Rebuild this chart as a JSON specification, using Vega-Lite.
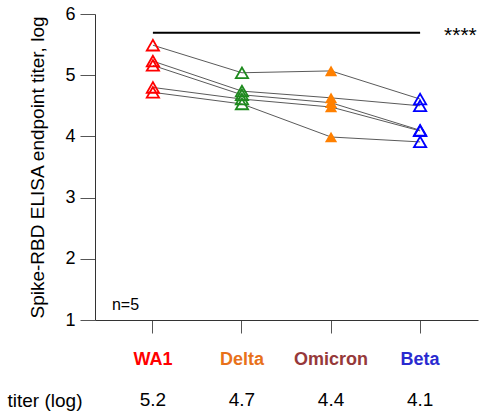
{
  "$schema": "https://vega.github.io/schema/vega-lite/v6.json",
  "autosize": {"type": "none"},
  "width": 383,
  "height": 306,
  "padding": {"left": 95, "top": 14, "right": 15, "bottom": 92},
  "background": "white",
  "config": {
    "view": {"stroke": null},
    "font": "Liberation Sans",
    "axis": {"labelFont": "Liberation Sans", "titleFont": "Liberation Sans"}
  },
  "datasets": {
    "titers": [
      {"subject": "A", "variant": "WA1", "titer": 5.49},
      {"subject": "A", "variant": "Delta", "titer": 5.04},
      {"subject": "A", "variant": "Omicron", "titer": 5.07},
      {"subject": "A", "variant": "Beta", "titer": 4.61},
      {"subject": "B", "variant": "WA1", "titer": 5.23},
      {"subject": "B", "variant": "Delta", "titer": 4.74},
      {"subject": "B", "variant": "Omicron", "titer": 4.63},
      {"subject": "B", "variant": "Beta", "titer": 4.5},
      {"subject": "C", "variant": "WA1", "titer": 5.16},
      {"subject": "C", "variant": "Delta", "titer": 4.68},
      {"subject": "C", "variant": "Omicron", "titer": 4.55},
      {"subject": "C", "variant": "Beta", "titer": 4.1},
      {"subject": "D", "variant": "WA1", "titer": 4.8},
      {"subject": "D", "variant": "Delta", "titer": 4.61},
      {"subject": "D", "variant": "Omicron", "titer": 4.48},
      {"subject": "D", "variant": "Beta", "titer": 4.09},
      {"subject": "E", "variant": "WA1", "titer": 4.72},
      {"subject": "E", "variant": "Delta", "titer": 4.53},
      {"subject": "E", "variant": "Omicron", "titer": 3.99},
      {"subject": "E", "variant": "Beta", "titer": 3.91}
    ],
    "means": [
      {"variant": "WA1", "mean": 5.2},
      {"variant": "Delta", "mean": 4.7},
      {"variant": "Omicron", "mean": 4.4},
      {"variant": "Beta", "mean": 4.1}
    ],
    "notes": [
      {"label": "****", "from": "WA1", "to": "Beta"}
    ],
    "count": [
      {"label": "n=5"}
    ]
  },
  "layer": [
    {
      "data": {"name": "titers"},
      "mark": {"type": "line", "color": "#5a5a5a", "strokeWidth": 1},
      "encoding": {
        "x": {
          "field": "variant",
          "type": "nominal",
          "sort": ["WA1", "Delta", "Omicron", "Beta"],
          "scale": {"domain": ["WA1", "Delta", "Omicron", "Beta"], "paddingInner": 0, "paddingOuter": 0.15},
          "axis": {
            "title": "titer (log)",
            "titleX": -88,
            "titleY": 80,
            "titleAnchor": "start",
            "titleAlign": "left",
            "titleBaseline": "middle",
            "titleAngle": 0,
            "titleFontSize": 19,
            "titleFontWeight": "normal",
            "titleColor": "black",
            "labelAngle": 0,
            "labelFontSize": 18,
            "labelFontWeight": "bold",
            "labelPadding": 17,
            "labelDx": 8,
            "labelColor": {"expr": "datum.value === 'WA1' ? '#ff0000' : datum.value === 'Delta' ? '#e8711a' : datum.value === 'Omicron' ? '#96393a' : '#2a2ad0'"},
            "tickSize": 13,
            "tickColor": "#555555",
            "domainColor": "#333333"
          }
        },
        "y": {
          "field": "titer",
          "type": "quantitative",
          "scale": {"domain": [1, 6], "nice": false, "zero": false},
          "axis": {
            "title": "Spike-RBD ELISA endpoint titer, log",
            "values": [1, 2, 3, 4, 5, 6],
            "format": "d",
            "grid": false,
            "tickSize": 15,
            "tickColor": "#555555",
            "domainColor": "#333333",
            "labelFontSize": 18,
            "labelPadding": 5,
            "labelColor": "black",
            "titleFontSize": 19,
            "titleFontWeight": "normal",
            "titleColor": "black",
            "titlePadding": 17
          }
        },
        "detail": {"field": "subject"}
      }
    },
    {
      "data": {"name": "titers"},
      "transform": [{"filter": "datum.variant !== 'Omicron'"}],
      "mark": {"type": "point", "shape": "triangle-up", "filled": false, "strokeWidth": 1.8, "size": 150, "opacity": 1},
      "encoding": {
        "x": {"field": "variant", "type": "nominal", "sort": ["WA1", "Delta", "Omicron", "Beta"]},
        "y": {"field": "titer", "type": "quantitative"},
        "color": {
          "field": "variant",
          "type": "nominal",
          "scale": {"domain": ["WA1", "Delta", "Omicron", "Beta"], "range": ["#ff0000", "#1e8a1e", "#ff8000", "#0000ff"]},
          "legend": null
        }
      }
    },
    {
      "data": {"name": "titers"},
      "transform": [{"filter": "datum.variant === 'Omicron'"}],
      "mark": {"type": "point", "shape": "triangle-up", "filled": true, "size": 150, "opacity": 1, "color": "#ff8000"},
      "encoding": {
        "x": {"field": "variant", "type": "nominal", "sort": ["WA1", "Delta", "Omicron", "Beta"]},
        "y": {"field": "titer", "type": "quantitative"}
      }
    },
    {
      "data": {"name": "notes"},
      "mark": {"type": "rule", "color": "black", "strokeWidth": 2},
      "encoding": {
        "x": {"field": "from", "type": "nominal"},
        "x2": {"field": "to"},
        "y": {"datum": 5.695}
      }
    },
    {
      "data": {"name": "notes"},
      "mark": {"type": "text", "align": "left", "baseline": "middle", "dx": 24, "dy": 3, "fontSize": 21, "color": "black"},
      "encoding": {
        "x": {"field": "to", "type": "nominal"},
        "y": {"datum": 5.695},
        "text": {"field": "label"}
      }
    },
    {
      "data": {"name": "count"},
      "mark": {"type": "text", "align": "left", "baseline": "middle", "dx": -41, "fontSize": 16, "color": "black"},
      "encoding": {
        "x": {"datum": "WA1"},
        "y": {"datum": 1.245},
        "text": {"field": "label"}
      }
    },
    {
      "data": {"name": "means"},
      "mark": {"type": "text", "align": "center", "baseline": "middle", "fontSize": 19, "color": "black"},
      "encoding": {
        "x": {"field": "variant", "type": "nominal", "sort": ["WA1", "Delta", "Omicron", "Beta"]},
        "y": {"datum": -0.307},
        "text": {"field": "mean", "type": "quantitative", "format": ".1f"}
      }
    }
  ]
}
